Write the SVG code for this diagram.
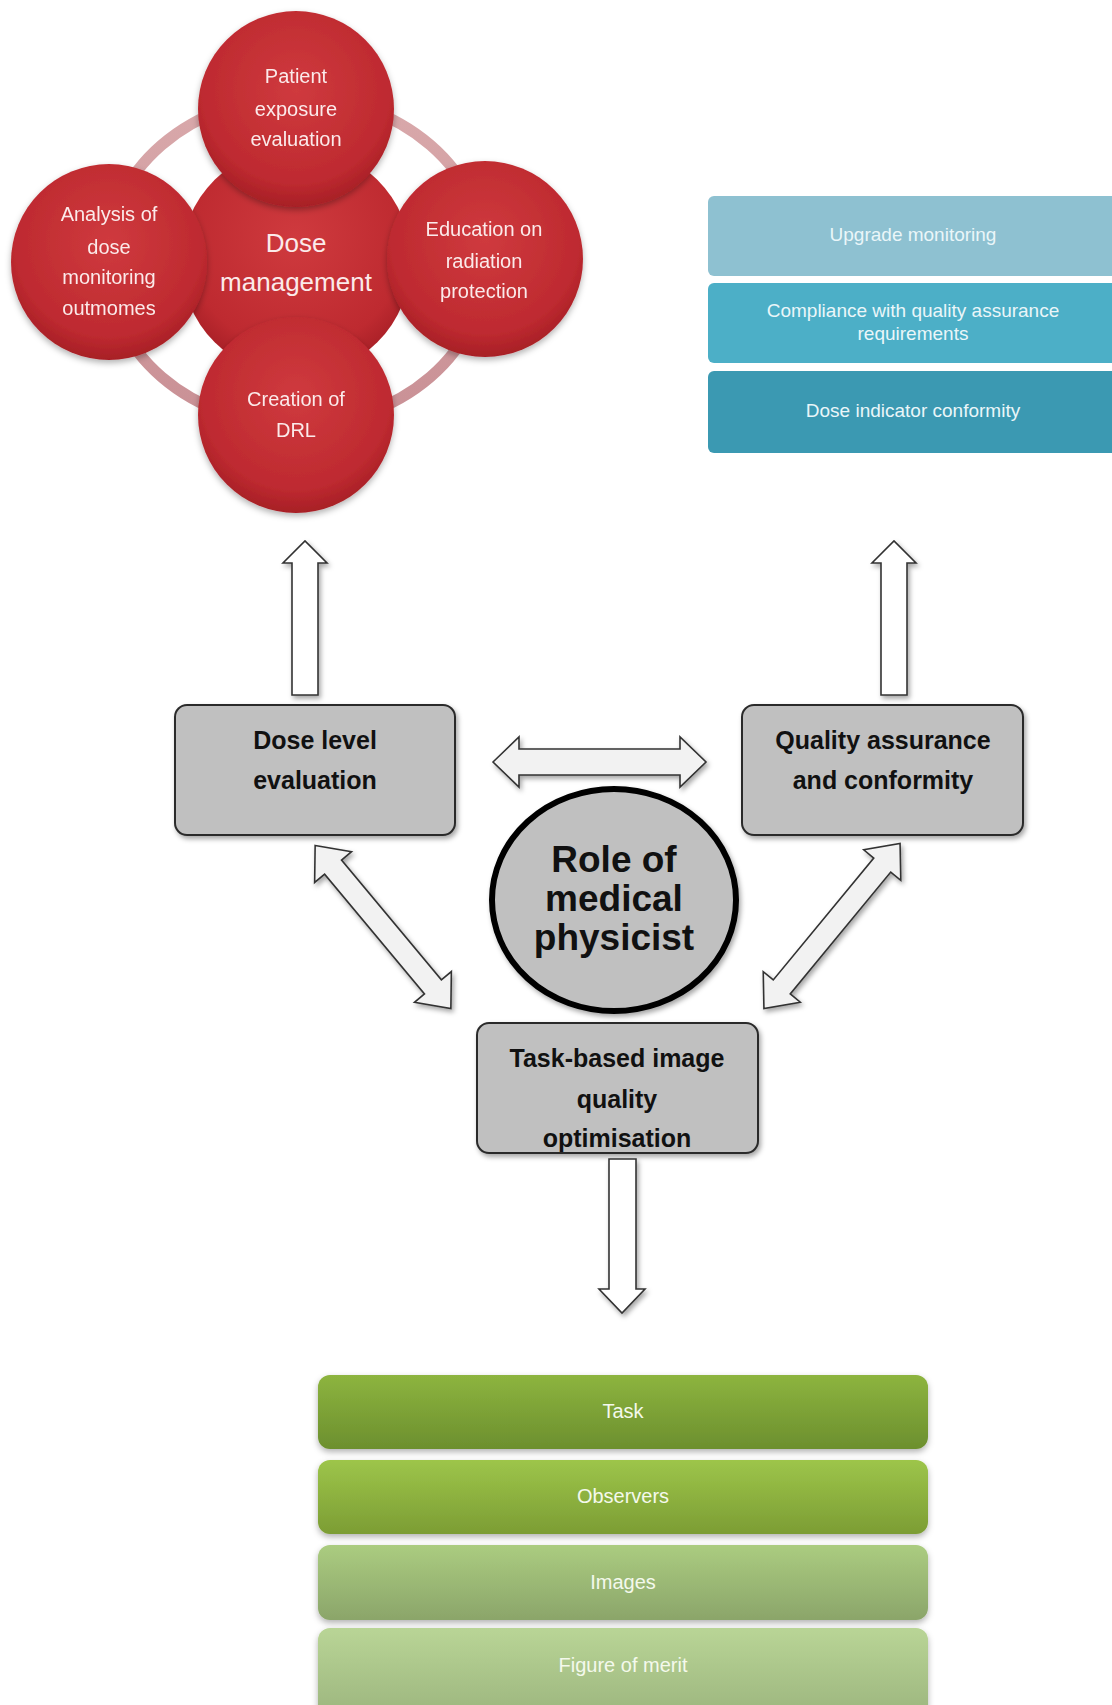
<svg xmlns="http://www.w3.org/2000/svg" width="1112" height="1705" viewBox="0 0 1112 1705">
<defs>
<style>
.wt{font-family:"Liberation Sans Narrow","Liberation Sans",Arial,sans-serif;fill:#fbeaea;text-anchor:middle}
.bt{font-family:"Liberation Sans Narrow","Liberation Sans",Arial,sans-serif;fill:#eaf6f9;text-anchor:middle;font-size:19px}
.gt{font-family:"Liberation Sans Narrow","Liberation Sans",Arial,sans-serif;fill:#f4f9ec;text-anchor:middle;font-size:20px}
.kt{font-family:"Liberation Sans Narrow","Liberation Sans",Arial,sans-serif;fill:#111;text-anchor:middle;font-weight:bold}
.gbox{fill:#c0c0c0;stroke:#2a2a2a;stroke-width:2}
.arr{fill:#ffffff;stroke:#333;stroke-width:1.6}
.arr2{fill:#f2f2f2;stroke:#333;stroke-width:1.6}
</style>
<radialGradient id="red" cx="50%" cy="40%" r="60%">
<stop offset="0" stop-color="#cf3a3e"/>
<stop offset="0.8" stop-color="#be2a30"/>
<stop offset="1" stop-color="#a71f26"/>
</radialGradient>
<linearGradient id="ring" x1="0" y1="0" x2="0" y2="1">
<stop offset="0" stop-color="#d9a9ab"/>
<stop offset="1" stop-color="#c99095"/>
</linearGradient>
<linearGradient id="g1" x1="0" y1="0" x2="0" y2="1"><stop offset="0" stop-color="#8db43f"/><stop offset="1" stop-color="#6c8f2e"/></linearGradient>
<linearGradient id="g2" x1="0" y1="0" x2="0" y2="1"><stop offset="0" stop-color="#9dc54a"/><stop offset="1" stop-color="#7c9d34"/></linearGradient>
<linearGradient id="g3" x1="0" y1="0" x2="0" y2="1"><stop offset="0" stop-color="#abcc80"/><stop offset="1" stop-color="#8ba56a"/></linearGradient>
<linearGradient id="g4" x1="0" y1="0" x2="0" y2="1"><stop offset="0" stop-color="#b9d596"/><stop offset="1" stop-color="#9cb57e"/></linearGradient>
<filter id="sh" x="-10%" y="-10%" width="125%" height="130%">
<feDropShadow dx="2" dy="3" stdDeviation="2.5" flood-color="#000" flood-opacity="0.35"/>
</filter>
<filter id="sh2" x="-10%" y="-10%" width="125%" height="130%">
<feDropShadow dx="0" dy="3" stdDeviation="3" flood-color="#000" flood-opacity="0.3"/>
</filter>
</defs>
<rect width="1112" height="1705" fill="#ffffff"/>

<!-- Dose management cluster -->
<g id="dose-management-cluster">
<ellipse cx="296" cy="261" rx="190" ry="164" fill="none" stroke="url(#ring)" stroke-width="11"/>
<g id="dose-management"><circle cx="296" cy="261" r="115" fill="url(#red)"/>
<text class="wt" font-size="26" x="296" y="252">Dose</text>
<text class="wt" font-size="26" x="296" y="291">management</text></g>
<g id="patient-exposure" filter="url(#sh2)"><circle cx="296" cy="109" r="98" fill="url(#red)"/>
<text class="wt" font-size="20" x="296" y="83">Patient</text>
<text class="wt" font-size="20" x="296" y="116">exposure</text>
<text class="wt" font-size="20" x="296" y="146">evaluation</text></g>
<g id="analysis" filter="url(#sh2)"><circle cx="109" cy="262" r="98" fill="url(#red)"/>
<text class="wt" font-size="20" x="109" y="221">Analysis of</text>
<text class="wt" font-size="20" x="109" y="254">dose</text>
<text class="wt" font-size="20" x="109" y="284">monitoring</text>
<text class="wt" font-size="20" x="109" y="315">outmomes</text></g>
<g id="education" filter="url(#sh2)"><circle cx="485" cy="259" r="98" fill="url(#red)"/>
<text class="wt" font-size="20" x="484" y="236">Education on</text>
<text class="wt" font-size="20" x="484" y="268">radiation</text>
<text class="wt" font-size="20" x="484" y="298">protection</text></g>
<g id="creation-drl" filter="url(#sh2)"><circle cx="296" cy="415" r="98" fill="url(#red)"/>
<text class="wt" font-size="20" x="296" y="406">Creation of</text>
<text class="wt" font-size="20" x="296" y="437">DRL</text></g>
</g>

<!-- QA list -->
<g id="upgrade-monitoring"><rect x="708" y="196" width="420" height="80" rx="6" fill="#8ec1d1"/>
<text class="bt" x="913" y="241">Upgrade  monitoring</text></g>
<g id="compliance"><rect x="708" y="283" width="420" height="80" rx="6" fill="#4cafc7"/>
<text class="bt" x="913" y="317">Compliance  with  quality assurance</text>
<text class="bt" x="913" y="340">requirements</text></g>
<g id="dose-indicator"><rect x="708" y="371" width="420" height="82" rx="6" fill="#3b99b2"/>
<text class="bt" x="913" y="417">Dose indicator conformity</text></g>

<!-- Gray boxes -->
<g id="dose-level-evaluation"><rect class="gbox" x="175" y="705" width="280" height="130" rx="12" filter="url(#sh)"/>
<text class="kt" font-size="25" x="315" y="749">Dose level</text>
<text class="kt" font-size="25" x="315" y="789">evaluation</text></g>
<g id="quality-assurance"><rect class="gbox" x="742" y="705" width="281" height="130" rx="12" filter="url(#sh)"/>
<text class="kt" font-size="25" x="883" y="749">Quality assurance</text>
<text class="kt" font-size="25" x="883" y="789">and conformity</text></g>
<g id="task-based"><rect class="gbox" x="477" y="1023" width="281" height="130" rx="12" filter="url(#sh)"/>
<text class="kt" font-size="25" x="617" y="1067">Task-based image</text>
<text class="kt" font-size="25" x="617" y="1108">quality</text>
<text class="kt" font-size="25" x="617" y="1147">optimisation</text></g>
<g id="role-medical-physicist"><ellipse cx="614" cy="900" rx="122" ry="111" fill="#c0c0c0" stroke="#000" stroke-width="6" filter="url(#sh)"/>
<text class="kt" font-size="37" x="614" y="872">Role of</text>
<text class="kt" font-size="37" x="614" y="911">medical</text>
<text class="kt" font-size="37" x="614" y="950">physicist</text></g>

<!-- Green list -->
<g id="task"><rect x="318" y="1375" width="610" height="74" rx="12" fill="url(#g1)" filter="url(#sh2)"/>
<text class="gt" x="623" y="1418">Task</text></g>
<g id="observers"><rect x="318" y="1460" width="610" height="74" rx="12" fill="url(#g2)" filter="url(#sh2)"/>
<text class="gt" x="623" y="1503">Observers</text></g>
<g id="images"><rect x="318" y="1545" width="610" height="75" rx="12" fill="url(#g3)" filter="url(#sh2)"/>
<text class="gt" x="623" y="1589">Images</text></g>
<g id="figure-of-merit"><rect x="318" y="1628" width="610" height="90" rx="12" fill="url(#g4)" filter="url(#sh2)"/>
<text class="gt" x="623" y="1672">Figure  of merit</text></g>

<!-- Connectors -->
<g id="connectors" filter="url(#sh)">
<polygon class="arr" points="292,695 318,695 318,563 327,563 305,541 283,563 292,563"/>
<polygon class="arr" points="881,695 907,695 907,563 916,563 894,541 872,563 881,563"/>
<polygon class="arr" points="609,1159 636,1159 636,1289 645,1289 622,1313 599,1289 609,1289"/>
<polygon class="arr2" points="493,762 519,737 519,749 680,749 680,737 706,762 680,787 680,775 519,775 519,787"/>
<g transform="translate(383,927) rotate(50.2)">
<polygon class="arr2" points="-106,0 -78,-24 -78,-11 78,-11 78,-24 106,0 78,24 78,11 -78,11 -78,24"/>
</g>
<g transform="translate(832,926) rotate(129.5)">
<polygon class="arr2" points="-107,0 -79,-24 -79,-11 79,-11 79,-24 107,0 79,24 79,11 -79,11 -79,24"/>
</g>
</g>
</svg>
